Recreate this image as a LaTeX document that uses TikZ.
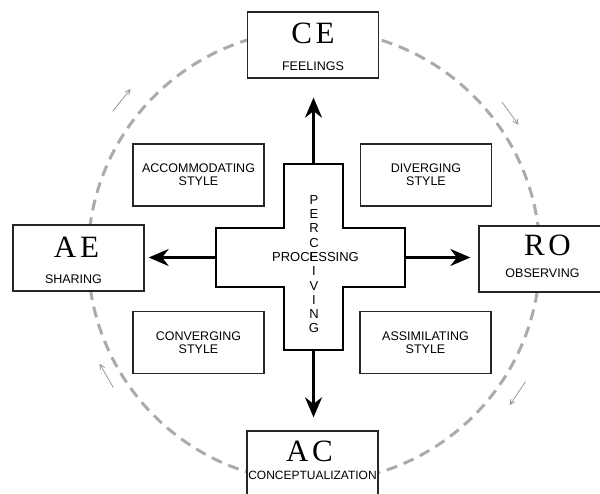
\documentclass[tikz,border=0pt]{standalone}
\usepackage{fontspec}
\setmainfont{Liberation Sans}
\newfontfamily\poleserif[LetterSpace=12]{Liberation Serif}
\usetikzlibrary{arrows.meta,backgrounds}

\begin{document}
\begin{tikzpicture}[x=1pt,y=-1pt,>={Stealth[length=20pt,width=17pt]}]

  \tikzstyle{pole}=[rectangle,draw=black!85,line width=1.3pt,fill=white,
                    minimum width=131pt,minimum height=66pt,inner sep=0pt]
  \tikzstyle{pole name}=[font=\poleserif\fontsize{31}{31}\selectfont,inner sep=0pt]
  \tikzstyle{pole mode}=[font=\fontsize{12.5}{13}\selectfont,inner sep=0pt]
  \tikzstyle{style box}=[rectangle,draw=black!85,line width=1.3pt,fill=white,
                         minimum width=131pt,minimum height=62pt,align=center,
                         font=\fontsize{12.5}{13}\selectfont]
  \tikzstyle{axis}=[->,line width=2.6pt]
  \tikzstyle{cycle}=[dash pattern=on 11pt off 7pt,line width=3pt,black!33]
  \tikzstyle{turn}=[-{Straight Barb[length=5pt,width=5pt]},line width=0.7pt,black!45]
  \tikzstyle{cross text}=[font=\fontsize{13}{14.3}\selectfont,inner sep=0pt,align=center]

  \useasboundingbox (0,0) rectangle (600,494);
  \clip (0,0) rectangle (600,494);

  \coordinate (hub) at (314,256);

  % the four poles
  \node [pole] (ce) at (313,45)    {};
  \node [pole] (ae) at (78.5,258)  {};
  \node [pole] (ro) at (544.5,259) {};
  \node [pole] (ac) at (312.5,464) {};

  \node [pole name] (ce name) at ([yshift=-22.5pt]ce.north) {CE};
  \node [pole mode] (ce mode) at ([yshift=-54.5pt]ce.north) {FEELINGS};
  \node [pole name] (ae name) at ([xshift=-2pt,yshift=-22.5pt]ae.north) {AE};
  \node [pole mode] (ae mode) at ([xshift=-5pt,yshift=-54.5pt]ae.north) {SHARING};
  \node [pole name] (ro name) at ([xshift=3pt,yshift=-20pt]ro.north) {RO};
  \node [pole mode] (ro mode) at ([xshift=-2pt,yshift=-48pt]ro.north) {OBSERVING};
  \node [pole name] (ac name) at ([xshift=-3pt,yshift=-21pt]ac.north) {AC};
  \node [pole mode,font=\fontsize{12}{13}\selectfont]
                    (ac mode) at ([yshift=-45pt]ac.north) {CONCEPTUALIZATION};

  % learning styles
  \node [style box] (accom)  at (198.5,175)   {ACCOMMODATING\\STYLE};
  \node [style box] (diverg) at (426,175)     {DIVERGING\\STYLE};
  \node [style box] (converg) at (198.5,342.5) {CONVERGING\\STYLE};
  \node [style box] (assim)  at (425.5,342.5) {ASSIMILATING\\STYLE};

  % cross in the middle
  \draw [line width=1.1pt,fill=white]
    (284,164) -- (343,164) -- (343,228) -- (405,228) -- (405,287) -- (343,287)
    -- (343,350) -- (284,350) -- (284,287) -- (216,287) -- (216,228) -- (284,228) -- cycle;
  \coordinate (cross n) at (313.5,164);
  \coordinate (cross s) at (313.5,350);
  \coordinate (cross w) at (216,257.5);
  \coordinate (cross e) at (405,257.5);

  \node [cross text] (processing) at (315.45,257) {PROCESSING};
  \node [cross text] (perceiving) at (314,264.15) {P\\E\\R\\C\\E\\I\\V\\I\\N\\G};

  \draw [axis,shorten >=19pt] (cross n) -- (ce.south -| cross n);
  \draw [axis,shorten >=13pt] (cross s) -- (ac.north -| cross s);
  \draw [axis,shorten >=4pt]  (cross w) -- (ae.east |- cross w);
  \draw [axis,shorten >=8pt]  (cross e) -- (ro.west |- cross e);

  % cycle arrows
  \foreach \ang/\rad [count=\i] in {-141/248,-36/243,34/246,150/240} {
    \coordinate (turn\i a) at ([shift={(\ang-3.3:\rad)}]hub);
    \coordinate (turn\i b) at ([shift={(\ang+3.3:\rad)}]hub);
    \draw [turn] (turn\i a) -- (turn\i b);
  }

  \begin{pgfonlayer}{background}
    \draw [cycle] (hub) circle [radius=226];
  \end{pgfonlayer}
\end{tikzpicture}
\end{document}
